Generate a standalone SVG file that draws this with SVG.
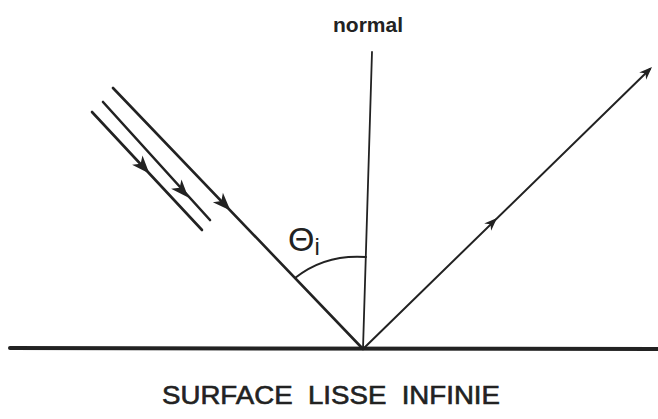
<svg xmlns="http://www.w3.org/2000/svg" width="658" height="419" viewBox="0 0 658 419">
<style>
.ln{stroke:#222;fill:none;stroke-linecap:round}
.ah{fill:#222}
.t{font-family:"Liberation Sans",Arial,sans-serif;fill:#222}
</style>
<defs>
<path id="arr" d="M0,0 L-13,-5 L-9,0 L-13,5 Z"/>
<path id="arr2" d="M2,0 L-16,-7 L-11,0 L-16,7 Z"/>
</defs>
<rect width="658" height="419" fill="#fff"/>
<g id="connectors">
<line id="surface" class="ln" x1="10" y1="348" x2="658" y2="349" stroke-width="4"/>
<line id="normal-line" class="ln" x1="372" y1="52" x2="363" y2="349" stroke-width="1.8"/>
<line id="incident" class="ln" x1="113" y1="88" x2="363" y2="349" stroke-width="2.6"/>
<line id="ray2" class="ln" x1="103" y1="102" x2="210" y2="220" stroke-width="2.6"/>
<line id="ray3" class="ln" x1="92" y1="112" x2="202" y2="230" stroke-width="2.6"/>
<line id="reflected" class="ln" x1="363" y1="349" x2="650" y2="69" stroke-width="2"/>
<path id="angle-arc" class="ln" d="M295,278 Q325,254 366,257" stroke-width="2"/>
<use href="#arr2" class="ah" transform="translate(229,209) rotate(46)"/>
<use href="#arr2" class="ah" transform="translate(187,196) rotate(48)"/>
<use href="#arr2" class="ah" transform="translate(148,172) rotate(48)"/>
<use href="#arr" class="ah" transform="translate(497,218) rotate(-44)"/>
<use href="#arr" class="ah" transform="translate(652,67) rotate(-44)"/>
</g>
<g id="label-normal"><text class="t" x="368" y="32" font-size="21" font-weight="bold" text-anchor="middle">normal</text></g>
<g id="label-theta"><text class="t" x="288" y="251" font-size="34">Θ<tspan font-size="24" dy="4">i</tspan></text></g>
<g id="label-surface"><text class="t" x="162" y="404" font-size="25" stroke="#222" stroke-width="0.6" textLength="338" lengthAdjust="spacingAndGlyphs" xml:space="preserve">SURFACE  LISSE  INFINIE</text></g>
</svg>
